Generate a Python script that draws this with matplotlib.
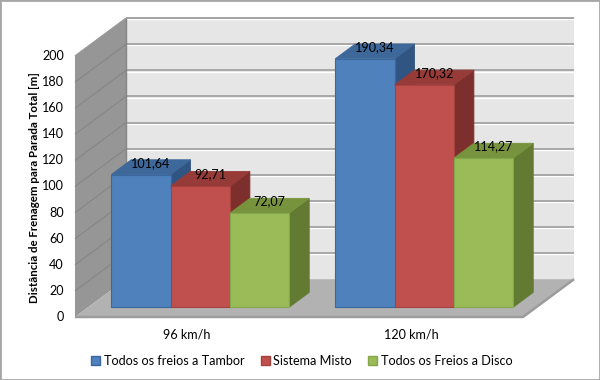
import matplotlib
matplotlib.use("Agg")
import matplotlib.pyplot as plt
from matplotlib.patches import Polygon, Rectangle, Patch

categories = ["96 km/h", "120 km/h"]
series = ["Todos os freios a Tambor", "Sistema Misto", "Todos os Freios a Disco"]
tambor = [101.64, 190.34]
misto = [92.71, 170.32]
disco = [72.07, 114.27]
y_ticks = [0, 20, 40, 60, 80, 100, 120, 140, 160, 180, 200]

plt.rcParams['font.family'] = ['Lato', 'DejaVu Sans']
FS = 9.1

# fake 3d: depth offset of the whole box (category units, value units)
DX, DY = 0.228, 29.0
T0, T1 = 0.26, 0.65   # front / back of the bars, as fraction of depth
BAR_W = 0.265

face = ['#4F81BD', '#C0504D', '#9BBB59']
top = ['#3D6899', '#963B38', '#78933D']
side = ['#315583', '#7C2F2D', '#627A32']
edge = ['#3B67A0', '#A8403D', '#86A64A']

fig = plt.figure(figsize=(6, 3.8), dpi=100)
ax = fig.add_axes([75/600, 1-317/380, 448/600, 261/380])
ax.set_xlim(0, len(categories))
ax.set_ylim(y_ticks[0], y_ticks[-1])
ax.axis('off')

ncat = len(categories)
ymax = y_ticks[-1]


def poly(pts, fc, ec='none', lw=0, z=1):
    ax.add_patch(Polygon(pts, closed=True, fc=fc, ec=ec, lw=lw, zorder=z,
                         clip_on=False, joinstyle='miter'))


def line(xs, ys, c, lw, z=2):
    ax.plot(xs, ys, color=c, lw=lw, zorder=z, clip_on=False,
            solid_capstyle='butt')


# walls and floor
poly([(DX, DY), (ncat+DX, DY), (ncat+DX, ymax+DY), (DX, ymax+DY)], '#E6E6E6')
poly([(0, 0), (DX, DY), (DX, ymax+DY), (0, ymax)], '#969696')
poly([(0, 0), (ncat, 0), (ncat+DX, DY), (DX, DY)], '#B2B2B2')
line([0, ncat, ncat+DX], [0, 0, DY], '#9C9C9C', 1.8)

for v in y_ticks[1:]:
    line([DX, ncat+DX], [v+DY-0.9, v+DY-0.9], 'white', 1.0)
    line([DX, ncat+DX], [v+DY, v+DY], '#A3A3A3', 1.3)
    line([0, DX], [v, v+DY], '#868686', 0.8)
line([DX, DX], [DY, ymax+DY], '#858585', 1.0)
line([0, DX, ncat+DX], [ymax, ymax+DY, ymax+DY], '#A0A0A0', 0.8)

# bars
for i in range(ncat):
    for j, vals in enumerate([tambor, misto, disco]):
        v = vals[i]
        x0 = i + (1 - 3*BAR_W)/2 + j*BAR_W
        x1 = x0 + BAR_W
        a0, b0 = T0*DX, T0*DY
        a1, b1 = T1*DX, T1*DY
        z = 5 + i*3 + j
        poly([(x1+a0, b0), (x1+a1, b1), (x1+a1, v+b1), (x1+a0, v+b0)],
             side[j], side[j], 0.6, z)
        poly([(x0+a0, v+b0), (x1+a0, v+b0), (x1+a1, v+b1), (x0+a1, v+b1)],
             top[j], top[j], 0.6, z)
        poly([(x0+a0, b0), (x1+a0, b0), (x1+a0, v+b0), (x0+a0, v+b0)],
             face[j], edge[j], 0.8, z)
        tm = (T0+T1)/2
        ax.annotate(f"{v:.2f}".replace('.', ','),
                    xy=(x0+BAR_W/2+tm*DX, v+tm*DY), xytext=(0, 3),
                    textcoords='offset points', ha='center', va='center',
                    fontsize=FS, color='black', zorder=30,
                    annotation_clip=False)

# axis texts
for v in y_ticks:
    ax.annotate(str(v), xy=(0, v), xytext=(-8, 0), textcoords='offset points',
                ha='right', va='center', fontsize=FS, annotation_clip=False)
for i, c in enumerate(categories):
    ax.annotate(c, xy=(i+0.5, 0), xytext=(0, -12.5), textcoords='offset points',
                ha='center', va='center', fontsize=FS, annotation_clip=False)

fig.text(35/600, 1-188/380, "Distância de Frenagem para Parada Total [m]",
         rotation=90, ha='center', va='center', fontsize=8.3, fontweight='bold')

handles = [Patch(facecolor=face[j], edgecolor=edge[j], label=series[j])
           for j in range(3)]
fig.legend(handles=handles, loc='center', bbox_to_anchor=(0.503, 1-361/380),
           ncol=3, frameon=False, fontsize=FS, handlelength=0.7,
           handleheight=0.7, handletextpad=0.3, columnspacing=1.3)

fig.patches.append(Rectangle((0, 0), 1, 1, transform=fig.transFigure,
                             fill=False, ec='#A6A6A6', lw=2))

fig.savefig('out.png', dpi=100)
